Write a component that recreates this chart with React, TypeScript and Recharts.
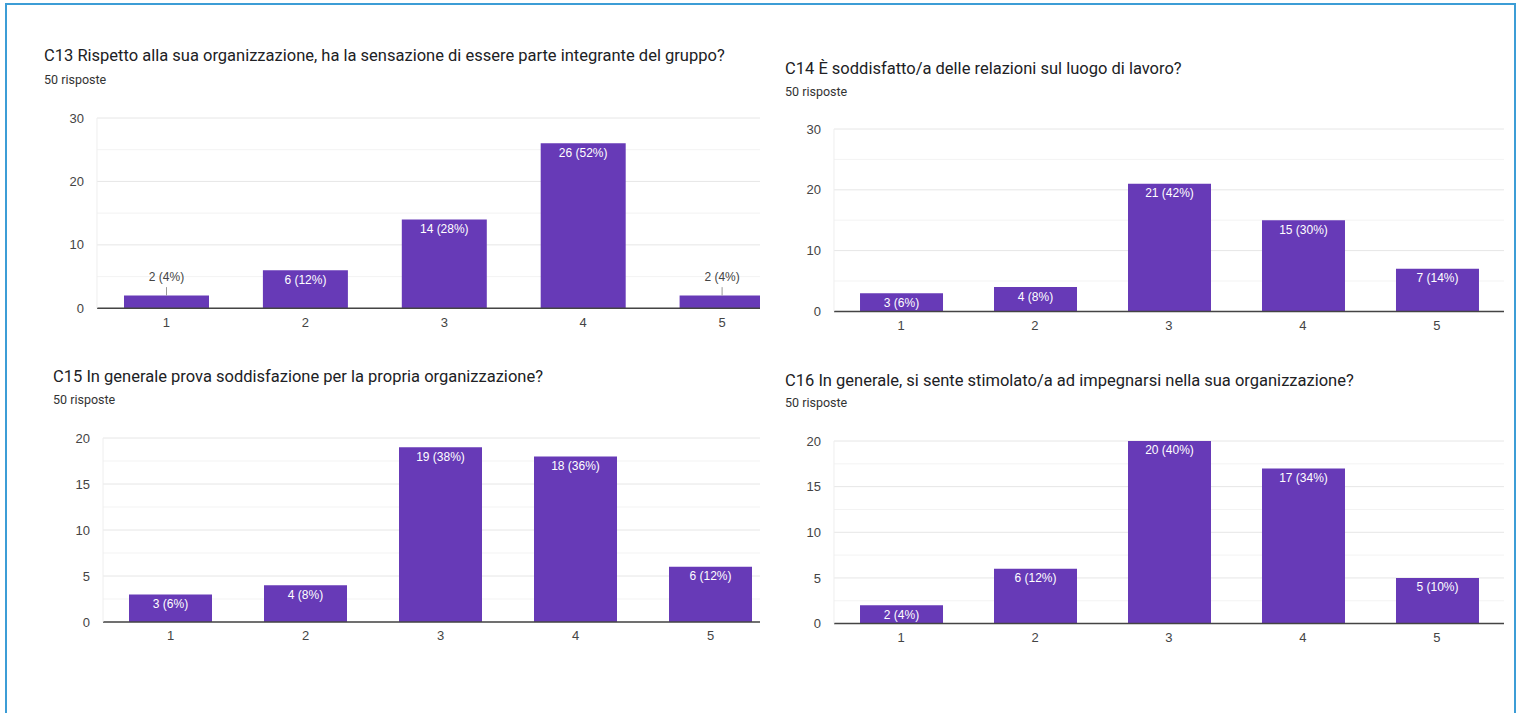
import React from "react";
import { BarChart, Bar, XAxis, YAxis, CartesianGrid, LabelList } from "recharts";

// risposte per ogni domanda (scala 1-5)
const categories = ["1", "2", "3", "4", "5"];
const c13Values = [2, 6, 14, 26, 2];
const c14Values = [3, 4, 21, 15, 7];
const c15Values = [3, 4, 19, 18, 6];
const c16Values = [2, 6, 20, 17, 5];
const totalResponses = 50;

const ticks30 = [0, 10, 20, 30];
const minor30 = [5, 15, 25];
const ticks20 = [0, 5, 10, 15, 20];
const minor20 = [2.5, 7.5, 12.5, 17.5];

const PURPLE = "#673ab7";
const LABEL_FONT = "'Liberation Sans', Arial, sans-serif";
const AXIS_W = 60;
const TOP_PAD = 10;
const X_H = 30;

const renderLabel = (props: any) => {
  const { x, y, width, height, value } = props;
  const cx = Number(x) + Number(width) / 2;
  const top = Number(y);
  const text = `${value} (${Math.round((value / totalResponses) * 100)}%)`;
  if (Number(height) < 15) {
    return (
      <g>
        <line x1={cx} x2={cx} y1={top - 8.5} y2={top} stroke="#999" strokeWidth={1} />
        <text x={cx} y={top - 14.5} textAnchor="middle" fill="#444" fontSize={12} fontFamily={LABEL_FONT}>
          {text}
        </text>
      </g>
    );
  }
  return (
    <text x={cx} y={top + 13.5} textAnchor="middle" fill="#fff" fontSize={12} fontFamily={LABEL_FONT}>
      {text}
    </text>
  );
};

interface PanelProps {
  title: string;
  titleX: number;
  titleTop: number;
  subTop: number;
  values: number[];
  ticks: number[];
  minor: number[];
  plotLeft: number;
  plotRight: number;
  plotTop: number;
  plotBottom: number;
  clipRight?: number;
  barSize: number;
}

const Panel: React.FC<PanelProps> = (p) => {
  const data = categories.map((name, i) => ({ name, value: p.values[i] }));
  const left = p.plotLeft - AXIS_W;
  const top = p.plotTop - TOP_PAD;
  const chartW = p.plotRight - p.plotLeft + AXIS_W;
  const chartH = TOP_PAD + (p.plotBottom - p.plotTop) + X_H;
  const clipW = (p.clipRight ?? p.plotRight + 2) - left;
  const max = p.ticks[p.ticks.length - 1];

  return (
    <>
      <div
        style={{
          position: "absolute",
          left: p.titleX,
          top: p.titleTop,
          fontSize: 16.5,
          color: "#202124",
          whiteSpace: "nowrap",
        }}
      >
        {p.title}
      </div>
      <div
        style={{
          position: "absolute",
          left: p.titleX,
          top: p.subTop,
          fontSize: 12.5,
          color: "#333",
          whiteSpace: "nowrap",
        }}
      >
        {totalResponses} risposte
      </div>
      <div style={{ position: "absolute", left, top, width: clipW, height: chartH, overflow: "hidden" }}>
        <BarChart width={chartW} height={chartH} data={data} margin={{ top: TOP_PAD, right: 0, bottom: 0, left: 0 }}>
          <CartesianGrid vertical={false} stroke="#e6e6e6" />
          <CartesianGrid vertical={false} stroke="#f3f3f3" horizontalValues={p.minor} />
          <XAxis
            dataKey="name"
            height={X_H}
            tickLine={false}
            tickSize={0}
            tickMargin={9}
            axisLine={{ stroke: "#444", strokeWidth: 1.5 }}
            tick={{ fill: "#444", fontSize: 13, fontFamily: LABEL_FONT }}
          />
          <YAxis
            width={AXIS_W}
            type="number"
            domain={[0, max]}
            ticks={p.ticks}
            interval={0}
            tickLine={false}
            tickSize={0}
            tickMargin={13}
            axisLine={{ stroke: "#eeeeee" }}
            tick={{ fill: "#444", fontSize: 13, fontFamily: LABEL_FONT }}
          />
          <Bar dataKey="value" fill={PURPLE} barSize={p.barSize} isAnimationActive={false}>
            <LabelList dataKey="value" content={renderLabel} />
          </Bar>
        </BarChart>
      </div>
    </>
  );
};

export default function App() {
  return (
    <div
      style={{
        position: "absolute",
        left: 0,
        top: 0,
        width: 1519,
        height: 713,
        background: "#fff",
        overflow: "hidden",
        fontFamily: "Roboto, 'Noto Sans', sans-serif",
      }}
    >
      <div
        style={{
          position: "absolute",
          left: 5,
          top: 3,
          width: 1511,
          height: 740,
          border: "2px solid #3c9dd6",
          boxSizing: "border-box",
        }}
      />
      <Panel
        title="C13 Rispetto alla sua organizzazione, ha la sensazione di essere parte integrante del gruppo?"
        titleX={44}
        titleTop={45.7}
        subTop={71.5}
        values={c13Values}
        ticks={ticks30}
        minor={minor30}
        plotLeft={97}
        plotRight={791.5}
        plotTop={118}
        plotBottom={308.3}
        clipRight={760}
        barSize={85}
      />
      <Panel
        title="C14 È soddisfatto/a delle relazioni sul luogo di lavoro?"
        titleX={785}
        titleTop={59}
        subTop={83.5}
        values={c14Values}
        ticks={ticks30}
        minor={minor30}
        plotLeft={834}
        plotRight={1504}
        plotTop={129.3}
        plotBottom={311.7}
        barSize={83}
      />
      <Panel
        title="C15 In generale prova soddisfazione per la propria organizzazione?"
        titleX={53}
        titleTop={367.4}
        subTop={391.5}
        values={c15Values}
        ticks={ticks20}
        minor={minor20}
        plotLeft={103.3}
        plotRight={778.3}
        plotTop={438.3}
        plotBottom={622.3}
        clipRight={760}
        barSize={83}
      />
      <Panel
        title="C16 In generale, si sente stimolato/a ad impegnarsi nella sua organizzazione?"
        titleX={785}
        titleTop={370.7}
        subTop={395}
        values={c16Values}
        ticks={ticks20}
        minor={minor20}
        plotLeft={834}
        plotRight={1504}
        plotTop={440.7}
        plotBottom={623.3}
        barSize={83}
      />
    </div>
  );
}
